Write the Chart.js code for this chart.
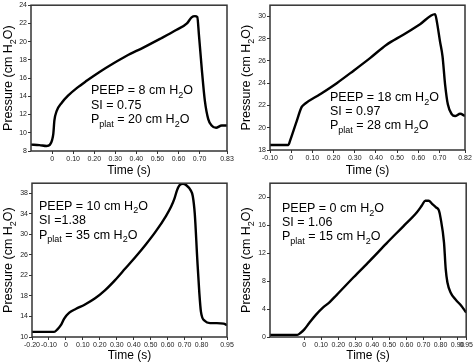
<!DOCTYPE html>
<html><head><meta charset="utf-8">
<script src="https://cdn.jsdelivr.net/npm/chart.js@4/dist/chart.umd.min.js"></script>
<style>
html,body{margin:0;padding:0;background:#fff;}
#wrap{position:relative;width:474px;height:363px;overflow:hidden;background:#fff;}
.p{position:absolute;}
</style></head><body>
<div id="wrap">
<div class="p" style="left:0;top:0;width:237px;height:178px"><canvas id="c1"></canvas></div>
<div class="p" style="left:237px;top:0;width:237px;height:178px"><canvas id="c2"></canvas></div>
<div class="p" style="left:0;top:178px;width:237px;height:185px"><canvas id="c3"></canvas></div>
<div class="p" style="left:237px;top:178px;width:237px;height:185px"><canvas id="c4"></canvas></div>
</div>
<script>
// ---- Data (time in s, pressure in cm H2O) ----
const time1 = [-0.1, -0.06, -0.026, -0.01, 0.0, 0.006, 0.011, 0.022, 0.046, 0.077, 0.117, 0.164, 0.227, 0.29, 0.354, 0.433, 0.512, 0.591, 0.64, 0.662, 0.678, 0.689, 0.697, 0.71, 0.725, 0.741, 0.757, 0.778, 0.805, 0.83];
const pressure1 = [8.7, 8.65, 8.55, 8.7, 9.2, 9.9, 11.35, 12.4, 13.3, 14.1, 14.9, 15.7, 16.7, 17.6, 18.45, 19.35, 20.3, 21.3, 22.0, 22.67, 22.8, 22.7, 20.7, 17.1, 13.5, 11.5, 10.8, 10.55, 10.8, 10.8];

const time2 = [-0.1, -0.013, -0.006, 0.026, 0.049, 0.065, 0.136, 0.215, 0.293, 0.372, 0.45, 0.529, 0.608, 0.679, 0.687, 0.702, 0.714, 0.726, 0.739, 0.758, 0.773, 0.797, 0.82];
const pressure2 = [18.45, 18.45, 18.8, 20.6, 21.85, 22.15, 23.0, 24.0, 25.1, 26.25, 27.45, 28.35, 29.3, 30.2, 29.55, 27.75, 26.4, 23.9, 22.1, 21.2, 21.05, 21.25, 21.05];

const time3 = [-0.2, -0.07, -0.05, -0.03, -0.01, 0.02, 0.06, 0.11, 0.17, 0.23, 0.29, 0.35, 0.41, 0.47, 0.53, 0.59, 0.62, 0.64, 0.655, 0.67, 0.69, 0.71, 0.736, 0.748, 0.76, 0.775, 0.787, 0.796, 0.82, 0.85, 0.89, 0.93, 0.95];
const pressure3 = [11.0, 11.0, 11.5, 12.3, 13.6, 14.75, 15.5, 16.3, 17.5, 19.1, 21.1, 23.35, 25.6, 28.0, 30.6, 33.6, 35.4, 37.0, 38.6, 39.6, 39.9, 39.6, 38.6, 37.5, 34.0, 25.0, 18.5, 15.0, 13.1, 12.7, 12.7, 12.6, 12.3];

const time4 = [-0.2, -0.04, -0.02, 0, 0.03, 0.07, 0.11, 0.15, 0.19, 0.29, 0.385, 0.483, 0.58, 0.66, 0.69, 0.71, 0.73, 0.75, 0.773, 0.79, 0.80, 0.82, 0.83, 0.84, 0.86, 0.89, 0.92, 0.95];
const pressure4 = [0.3, 0.3, 0.6, 1.05, 2.0, 3.2, 4.2, 5.0, 6.0, 8.55, 10.9, 13.4, 15.8, 17.8, 18.8, 19.5, 19.5, 19.05, 18.55, 18.1, 17.0, 13.5, 9.7, 7.8, 6.3, 5.3, 4.5, 3.5];

// ---- Tick values and labels ----
const xTicks1 = [0, 0.1, 0.2, 0.3, 0.4, 0.5, 0.6, 0.7, 0.83];
const xLabels1 = ["0", "0.10", "0.20", "0.30", "0.40", "0.50", "0.60", "0.70", "0.83"];
const xTicks2 = [-0.1, 0, 0.1, 0.2, 0.3, 0.4, 0.5, 0.6, 0.7, 0.82];
const xLabels2 = ["-0.10", "0", "0.10", "0.20", "0.30", "0.40", "0.50", "0.60", "0.70", "0.82"];
const xTicks3 = [-0.2, -0.1, 0, 0.1, 0.2, 0.3, 0.4, 0.5, 0.6, 0.7, 0.8, 0.95];
const xLabels3 = ["-0.20", "-0.10", "0", "0.10", "0.20", "0.30", "0.40", "0.50", "0.60", "0.70", "0.80", "0.95"];
const xTicks4 = [0, 0.1, 0.2, 0.3, 0.4, 0.5, 0.6, 0.7, 0.8, 0.9, 0.95];
const xLabels4 = ["0", "0.10", "0.20", "0.30", "0.40", "0.50", "0.60", "0.70", "0.80", "0.90", "0.95"];
const yTicks1 = [8, 10, 12, 14, 16, 18, 20, 22, 24];
const yTicks2 = [18, 20, 22, 24, 26, 28, 30];
const yTicks3 = [10, 14, 18, 22, 26, 30, 34, 38];
const yTicks4 = [0, 4, 8, 12, 16, 20];

// ---- Annotation texts ----
const notes1 = [["PEEP = 8 cm H", "2", "O"], ["SI = 0.75"], ["P", "plat", " = 20 cm H", "2", "O"]];
const notes2 = [["PEEP = 18 cm H", "2", "O"], ["SI = 0.97"], ["P", "plat", " = 28 cm H", "2", "O"]];
const notes3 = [["PEEP = 10 cm H", "2", "O"], ["SI =1.38"], ["P", "plat", " = 35 cm H", "2", "O"]];
const notes4 = [["PEEP = 0 cm H", "2", "O"], ["SI = 1.06"], ["P", "plat", " = 15 cm H", "2", "O"]];
const yTitle = ["Pressure (cm H", "2", "O)"];
const xTitle = "Time (s)";

const FONT = "'Liberation Sans', Arial, Helvetica, sans-serif";
const NARROW = "'Liberation Sans Narrow', 'Arial Narrow', 'Liberation Sans', Arial, sans-serif";
Chart.defaults.font.family = FONT;
Chart.defaults.color = '#000';

// draw segments alternating normal / subscript
function drawRich(ctx, segs, x, y, size) {
  let cx = x;
  segs.forEach((s, i) => {
    const sub = i % 2 === 1;
    ctx.font = (sub ? size * 0.72 : size) + 'px ' + FONT;
    ctx.fillText(s, cx, sub ? y + size * 0.28 : y);
    cx += ctx.measureText(s).width;
  });
  return cx - x;
}
function richWidth(ctx, segs, size) {
  let w = 0;
  segs.forEach((s, i) => {
    ctx.font = ((i % 2 === 1) ? size * 0.72 : size) + 'px ' + FONT;
    w += ctx.measureText(s).width;
  });
  return w;
}

const decor = {
  id: 'decor',
  afterDatasetsDraw(chart, args, o) {
    const ctx = chart.ctx, a = chart.chartArea;
    ctx.save();
    ctx.strokeStyle = '#333';
    ctx.lineWidth = 1.5;
    ctx.strokeRect(a.left, a.top, a.right - a.left, a.bottom - a.top);
    ctx.fillStyle = '#000';
    ctx.textBaseline = 'alphabetic';
    ctx.textAlign = 'left';
    o.notes.forEach((line, i) => {
      drawRich(ctx, line, a.left + o.nx, a.top + o.ny + i * o.gap, o.size);
    });
    // y title
    const w = richWidth(ctx, yTitle, 12.5);
    ctx.translate(o.tx, (a.top + a.bottom) / 2);
    ctx.rotate(-Math.PI / 2);
    drawRich(ctx, yTitle, -w / 2, 4, 12.5);
    ctx.restore();
  }
};

function xScale(min, max, ticks, labels, h) {
  return {
    type: 'linear', min, max,
    afterBuildTicks: s => { s.ticks = ticks.map(v => ({ value: v })); },
    afterFit: s => { s.height = h; },
    ticks: { autoSkip: false, maxRotation: 0, minRotation: 0, padding: 1, color: '#222',
      font: { size: 7, family: NARROW },
      callback: (v, i) => labels[i] },
    grid: { display: true, drawOnChartArea: false, drawTicks: true, tickLength: 3, color: '#333', lineWidth: 1 },
    border: { display: false },
    title: { display: true, text: xTitle, color: '#000', font: { size: 12, family: FONT }, padding: { top: 1, bottom: 0 } }
  };
}
function yScale(min, max, ticks, w) {
  return {
    type: 'linear', min, max,
    afterBuildTicks: s => { s.ticks = ticks.map(v => ({ value: v })); },
    afterFit: s => { s.width = w; },
    ticks: { autoSkip: false, padding: 1, color: '#222', font: { size: 7, family: NARROW },
      callback: v => String(v) },
    grid: { display: true, drawOnChartArea: false, drawTicks: true, tickLength: 3, color: '#333', lineWidth: 1 },
    border: { display: false }
  };
}

function make(id, t, p, xs, ys, pad, notes) {
  new Chart(document.getElementById(id), {
    type: 'scatter',
    data: { datasets: [{ data: t.map((v, i) => ({ x: v, y: p[i] })), showLine: true, borderColor: '#000',
      borderWidth: 2.4, pointRadius: 0, cubicInterpolationMode: 'monotone', fill: false }] },
    options: {
      responsive: true, maintainAspectRatio: false, animation: false, devicePixelRatio: 1,
      layout: { padding: pad },
      plugins: { legend: { display: false }, tooltip: { enabled: false }, decor: notes },
      scales: { x: xs, y: ys }
    },
    plugins: [decor]
  });
}

make('c1', time1, pressure1,
  xScale(-0.1, 0.83, xTicks1, xLabels1, 27), yScale(8, 24, yTicks1, 31),
  { top: 3, right: 10, left: 0, bottom: 0 },
  { notes: notes1, nx: 60, ny: 89, gap: 14.5, size: 12.5, tx: 8 });
make('c2', time2, pressure2,
  xScale(-0.1, 0.82, xTicks2, xLabels2, 28), yScale(18, 31, yTicks2, 33),
  { top: 4, right: 9, left: 0, bottom: 0 },
  { notes: notes2, nx: 60, ny: 96, gap: 14, size: 12.5, tx: 9 });
make('c3', time3, pressure3,
  xScale(-0.2, 0.95, xTicks3, xLabels3, 26), yScale(10, 40, yTicks3, 32),
  { top: 4, right: 10, left: 0, bottom: 0 },
  { notes: notes3, nx: 7, ny: 26.5, gap: 14.5, size: 12.5, tx: 8 });
make('c4', time4, pressure4,
  xScale(-0.2, 0.95, xTicks4, xLabels4, 26), yScale(0, 22, yTicks4, 33),
  { top: 4, right: 7, left: 0, bottom: 0 },
  { notes: notes4, nx: 12, ny: 29, gap: 14, size: 12.5, tx: 9 });
</script>
</body></html>
